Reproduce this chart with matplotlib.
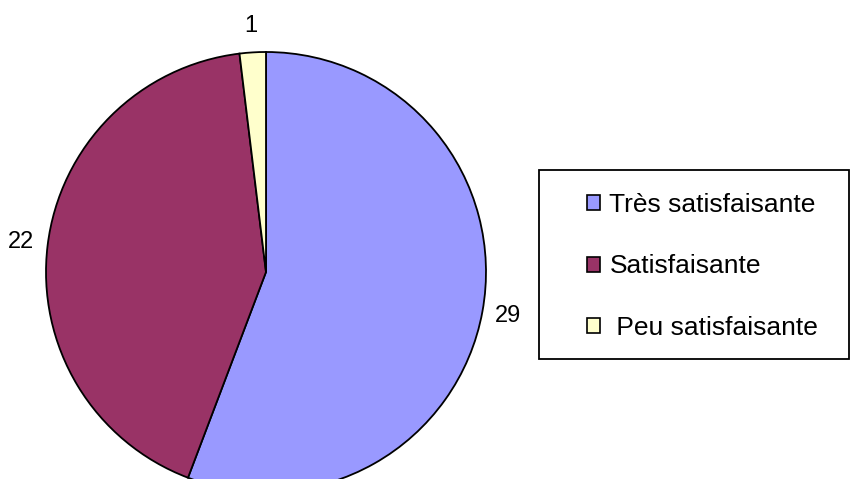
import matplotlib
matplotlib.use("Agg")
from matplotlib import pyplot
from matplotlib.patches import Patch, Rectangle

#-------------
# données
#-------------
categories = ["Très satisfaisante", "Satisfaisante", " Peu satisfaisante"]
valeurs = [29, 22, 1]
couleurs = ["#9999FF", "#993366", "#FFFFCC"]

W, H = 850, 479

pyplot.rcParams["font.family"] = ["Liberation Sans", "DejaVu Sans"]

fig = pyplot.figure(figsize=(W / 100, H / 100), dpi=100)

# zone du camembert en pixels : x 46..486, y 52..492
ax = fig.add_axes([46 / W, (H - 492) / H, 440 / W, 440 / H])
ax.pie(valeurs, labels=[str(v) for v in valeurs], colors=couleurs,
       startangle=90, counterclock=False, labeldistance=1.12,
       wedgeprops={"edgecolor": "black", "linewidth": 1.3},
       textprops={"fontsize": 17, "color": "black"})
ax.set_xlim(-1, 1)
ax.set_ylim(-1, 1)
ax.set_aspect("equal")
ax.axis("off")
for t in ax.texts:
    t.set_ha("center")
    t.set_va("center")

# cadre de la légende
fig.patches.append(Rectangle((539 / W, (H - 359) / H), (849 - 539) / W, (359 - 170) / H,
                             transform=fig.transFigure, fill=False,
                             edgecolor="black", linewidth=1.3))

handles = [Patch(facecolor=c, edgecolor="black", linewidth=1.2) for c in couleurs]
fig.legend(handles, categories, loc="upper left",
           bbox_to_anchor=(587 / W, 1 - 193 / H), frameon=False,
           fontsize=19, handlelength=0.5, handleheight=0.5,
           handletextpad=0.35, labelspacing=1.42, borderpad=0, borderaxespad=0)

fig.savefig("out.png", dpi=100)
pyplot.close(fig)
